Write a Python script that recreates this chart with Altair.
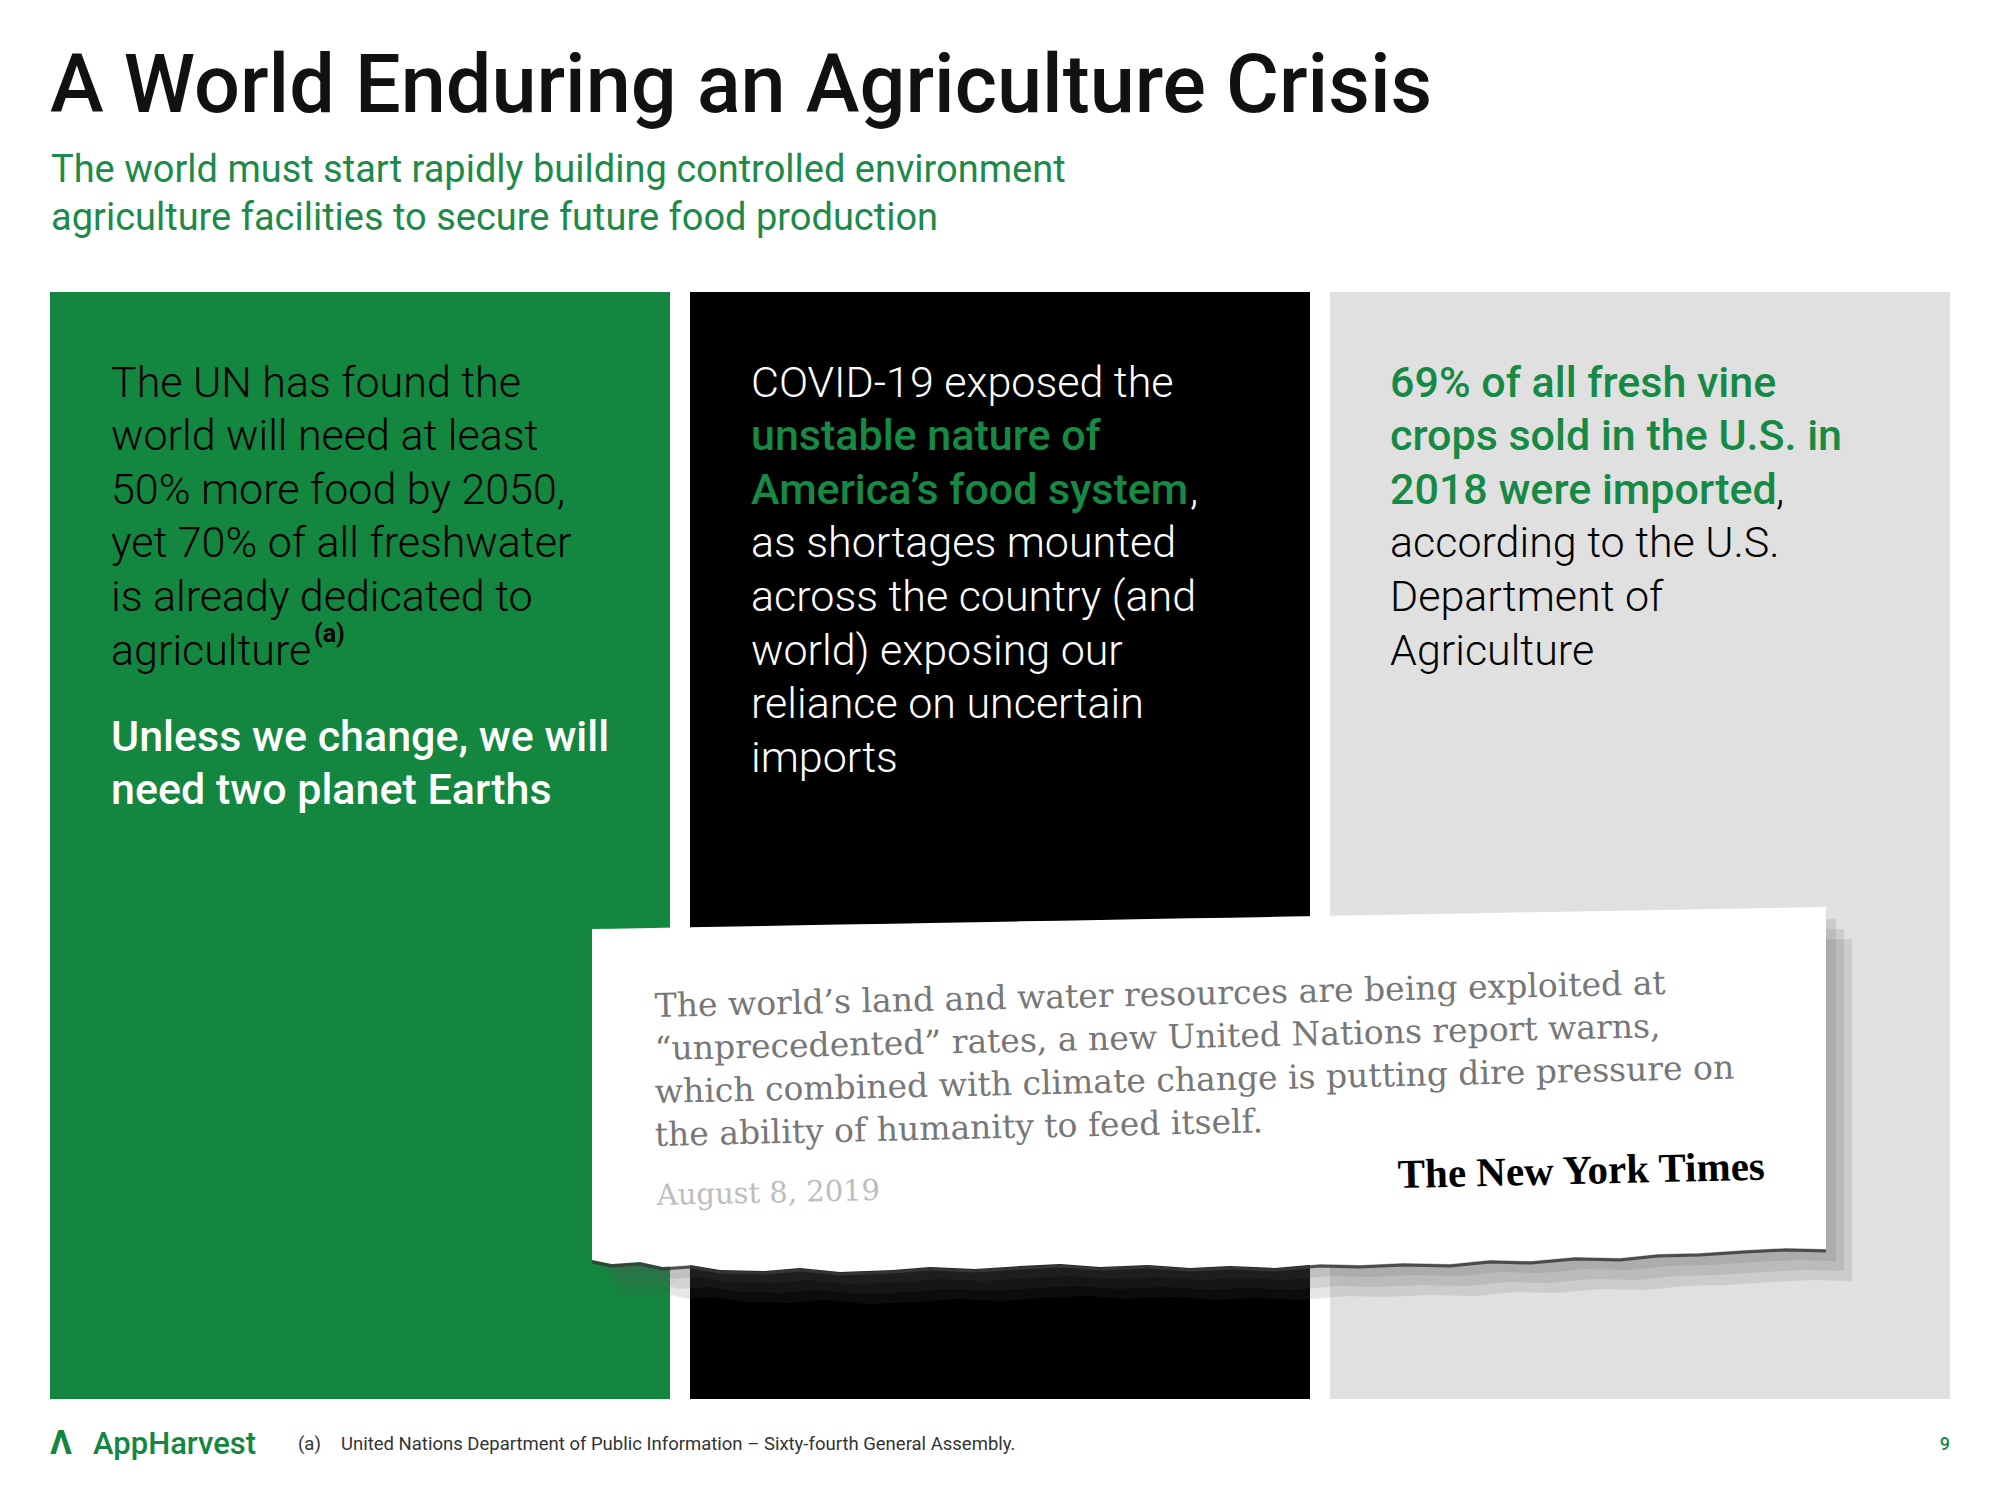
import altair as alt
import pandas as pd

# ---------------- content ----------------
GREEN = "#13863f"
TEXT_GREEN = "#168a45"
SUB_GREEN = "#1d8a4a"
GRAY = "#e0e0e0"

title = "A World Enduring an Agriculture Crisis"
subtitle_lines = [
    "The world must start rapidly building controlled environment",
    "agriculture facilities to secure future food production",
]

panel_fills = [GREEN, "#000000", GRAY]
panel_left = [50, 690, 1330]
panel_right = [670, 1310, 1950]
panel_top = [292, 292, 292]
panel_bottom = [1399, 1399, 1399]

green_plain = [
    "The UN has found the",
    "world will need at least",
    "50% more food by 2050,",
    "yet 70% of all freshwater",
    "is already dedicated to",
    "agriculture",
]
green_note = "(a)"
green_bold = ["Unless we change, we will", "need two planet Earths"]

black_first = ["COVID-19 exposed the"]
black_green = ["unstable nature of", "America’s food system"]
black_rest = [
    "as shortages mounted",
    "across the country (and",
    "world) exposing our",
    "reliance on uncertain",
    "imports",
]

gray_green = ["69% of all fresh vine", "crops sold in the U.S. in", "2018 were imported"]
gray_rest = ["according to the U.S.", "Department of", "Agriculture"]

quote_lines = [
    "The world’s land and water resources are being exploited at",
    "“unprecedented” rates, a new United Nations report warns,",
    "which combined with climate change is putting dire pressure on",
    "the ability of humanity to feed itself.",
]
quote_date = "August 8, 2019"
quote_source = "The New York Times"

brand = "AppHarvest"
footnote_mark = "(a)"
footnote = "United Nations Department of Public Information – Sixty-fourth General Assembly."
page_number = "9"

# ---------------- layout (page pixels) ----------------
W, H = 1984, 1470
xs = alt.Scale(domain=[8, 8 + W])
ys = alt.Scale(domain=[8, 8 + H], reverse=True)

line_base = [397, 450, 504, 557, 611, 665, 718, 772]

# clipping outline: straight top edge, torn bottom edge
clip_left, clip_right = 592, 1826
clip_top_left, clip_top_right = 931, 909
torn_x = [592, 612, 640, 663, 690, 720, 765, 800, 840, 893, 930, 975, 1020, 1060,
          1100, 1148, 1190, 1230, 1275, 1320, 1360, 1403, 1450, 1490, 1531, 1575,
          1620, 1658, 1700, 1745, 1786, 1826]
torn_y = [1262, 1266, 1264, 1269, 1267, 1272, 1273, 1270, 1274, 1272, 1269, 1271, 1268, 1266,
          1269, 1267, 1270, 1268, 1270, 1266, 1267, 1265, 1266, 1262, 1263, 1259,
          1260, 1256, 1255, 1252, 1250, 1251]


def top_at(x):
    return clip_top_left + (clip_top_right - clip_top_left) * (x - clip_left) / (clip_right - clip_left)


clip = pd.DataFrame({"x": torn_x, "top": [top_at(x) for x in torn_x], "bottom": torn_y})


def rows(lines, x, ys_):
    return pd.DataFrame({"x": [x] * len(lines), "y": ys_[: len(lines)], "text": lines})


def text_layer(df, size, color, weight=400, font="Roboto", align="left", angle=0):
    return (
        alt.Chart(df)
        .mark_text(
            font=font,
            fontSize=size,
            fontWeight=weight,
            color=color,
            align=align,
            baseline="alphabetic",
            angle=angle,
        )
        .encode(
            x=alt.X("x:Q", scale=xs, axis=None),
            y=alt.Y("y:Q", scale=ys, axis=None),
            text="text:N",
        )
    )


panels = pd.DataFrame(
    {"x": panel_left, "x2": panel_right, "y": panel_top, "y2": panel_bottom, "fill": panel_fills}
)
panel_layer = (
    alt.Chart(panels)
    .mark_rect()
    .encode(
        x=alt.X("x:Q", scale=xs, axis=None),
        x2="x2:Q",
        y=alt.Y("y:Q", scale=ys, axis=None),
        y2="y2:Q",
        color=alt.Color("fill:N", scale=None),
    )
)


def area_layer(df, color, opacity, dx=0, dy=0):
    d = df.copy()
    d["x"] = d["x"] + dx
    d["top"] = d["top"] + dy
    d["bottom"] = d["bottom"] + dy
    return (
        alt.Chart(d)
        .mark_area(color=color, opacity=opacity)
        .encode(
            x=alt.X("x:Q", scale=xs, axis=None),
            y=alt.Y("top:Q", scale=ys, axis=None),
            y2="bottom:Q",
        )
    )


edge_layer = (
    alt.Chart(clip)
    .mark_line(color="#3a3a3a", strokeWidth=3, opacity=0.85)
    .encode(x=alt.X("x:Q", scale=xs, axis=None), y=alt.Y("bottom:Q", scale=ys, axis=None))
)

layers = [
    panel_layer,
    area_layer(clip, "#555555", 0.14, dx=10, dy=10),
    area_layer(clip, "#555555", 0.14, dx=18, dy=20),
    area_layer(clip, "#555555", 0.14, dx=26, dy=30),
    edge_layer,
    area_layer(clip, "#ffffff", 1.0, dy=-2),
    # title & subtitle
    text_layer(rows([title], 50, [112]), 81, "#111111", weight=500),
    text_layer(rows(subtitle_lines, 51, [182, 230]), 38, SUB_GREEN),
    # green panel
    text_layer(rows(green_plain, 111, line_base), 43, "#000000", weight=300),
    text_layer(rows([green_note], 314, [642]), 25, "#000000", weight=700),
    text_layer(rows(green_bold, 111, [751, 804]), 43, "#ffffff", weight=500),
    # black panel
    text_layer(rows(black_first, 751, line_base), 43, "#ffffff", weight=300),
    text_layer(rows(black_green, 751, line_base[1:]), 43, TEXT_GREEN, weight=500),
    text_layer(rows([","], 1190, [504]), 43, "#ffffff", weight=300),
    text_layer(rows(black_rest, 751, line_base[3:]), 43, "#ffffff", weight=300),
    # gray panel
    text_layer(rows(gray_green, 1390, line_base), 43, TEXT_GREEN, weight=500),
    text_layer(rows([","], 1776, [504]), 43, "#000000", weight=300),
    text_layer(rows(gray_rest, 1390, line_base[3:]), 43, "#000000", weight=300),
    # newspaper clipping
    text_layer(rows(quote_lines, 655, [1017, 1060, 1103, 1146]), 33, "#777777",
               font="DejaVu Serif", angle=358.7),
    text_layer(rows([quote_date], 657, [1205]), 29, "#bdbdbd", font="DejaVu Serif", angle=358.7),
    text_layer(rows([quote_source], 1398, [1188]), 41, "#000000", weight=700,
               font="Liberation Serif", angle=358.7),
    # footer
    text_layer(rows(["Λ"], 50, [1454]), 34, GREEN, weight=700),
    text_layer(rows([brand], 93, [1454]), 31, GREEN, weight=500),
    text_layer(rows([footnote_mark], 298, [1450]), 18.5, "#333333"),
    text_layer(rows([footnote], 341, [1450]), 18.5, "#333333"),
    text_layer(rows([page_number], 1950, [1450]), 18, TEXT_GREEN, weight=500, align="right"),
]

chart = (
    alt.layer(*layers)
    .properties(width=W, height=H, padding=0, background="#ffffff")
    .configure_view(stroke=None)
)

chart.save("out.html", embed_options={"renderer": "svg", "actions": False})
